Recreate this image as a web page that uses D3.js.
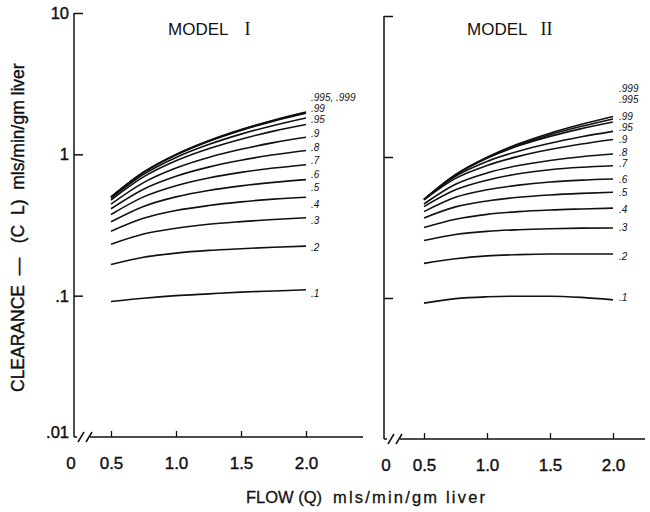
<!DOCTYPE html>
<html>
<head>
<meta charset="utf-8">
<script src="https://cdn.jsdelivr.net/npm/d3@7"></script>
<style>
  html, body { margin: 0; padding: 0; background: #fff; }
  svg { display: block; }
  text { font-family: "Liberation Sans", Arial, Helvetica, sans-serif; fill: #111; }
</style>
</head>
<body>
<svg id="chart" width="650" height="512"></svg>
<script>
// Hepatic flow (Q, mls/min/gm liver) at which clearance was evaluated
const flow = [0.5, 0.75, 1.0, 1.25, 1.5, 1.75, 2.0];

// Extraction ratio for each curve
const extraction = [".1", ".2", ".3", ".4", ".5", ".6", ".7", ".8", ".9", ".95", ".99", ".995", ".999"];

// Clearance (mls/min/gm liver), Model I, one row per extraction ratio
const clModelI = [
  [0.091, 0.096, 0.100, 0.103, 0.106, 0.108, 0.110],
  [0.166, 0.187, 0.200, 0.209, 0.215, 0.220, 0.224],
  [0.231, 0.273, 0.300, 0.320, 0.334, 0.346, 0.356],
  [0.286, 0.353, 0.400, 0.434, 0.461, 0.482, 0.497],
  [0.333, 0.428, 0.500, 0.555, 0.598, 0.633, 0.662],
  [0.375, 0.500, 0.600, 0.680, 0.745, 0.800, 0.845],
  [0.412, 0.567, 0.700, 0.812, 0.908, 0.992, 1.065],
  [0.444, 0.631, 0.800, 0.950, 1.085, 1.210, 1.320],
  [0.474, 0.692, 0.900, 1.095, 1.280, 1.460, 1.625],
  [0.487, 0.721, 0.950, 1.172, 1.390, 1.600, 1.805],
  [0.497, 0.744, 0.990, 1.234, 1.477, 1.718, 1.955],
  [0.499, 0.747, 0.995, 1.242, 1.488, 1.733, 1.975],
  [0.500, 0.749, 0.999, 1.248, 1.497, 1.745, 1.990]
];

// Clearance (mls/min/gm liver), Model II
const clModelII = [
  [0.092, 0.099, 0.102, 0.103, 0.103, 0.101, 0.097],
  [0.176, 0.190, 0.199, 0.203, 0.205, 0.205, 0.205],
  [0.256, 0.282, 0.297, 0.305, 0.310, 0.313, 0.314],
  [0.316, 0.362, 0.392, 0.410, 0.421, 0.428, 0.434],
  [0.370, 0.443, 0.488, 0.518, 0.538, 0.552, 0.563],
  [0.410, 0.518, 0.585, 0.632, 0.665, 0.685, 0.698],
  [0.445, 0.585, 0.685, 0.760, 0.812, 0.845, 0.866],
  [0.464, 0.640, 0.770, 0.870, 0.945, 1.005, 1.050],
  [0.496, 0.705, 0.870, 1.010, 1.130, 1.235, 1.330],
  [0.499, 0.730, 0.930, 1.100, 1.250, 1.390, 1.520],
  [0.500, 0.746, 0.980, 1.200, 1.400, 1.590, 1.770],
  [0.500, 0.748, 0.990, 1.220, 1.440, 1.650, 1.860],
  [0.500, 0.750, 0.996, 1.240, 1.475, 1.705, 1.940]
];

// Curve labels, in the same order as the curves
const labelsI = [".1", ".2", ".3", ".4", ".5", ".6", ".7", ".8", ".9", ".95", ".99", ".995, .999"];
const labelsII = [".1", ".2", ".3", ".4", ".5", ".6", ".7", ".8", ".9", ".95", ".99", ".995", ".999"];

// Y axis ticks
const yTicks = [0.01, 0.1, 1, 10];
const yTickText = [".01", ".1", "1", "10"];
// X axis ticks
const xTicks = [0.5, 1.0, 1.5, 2.0];

// Vertical offsets of the curve labels so that crowded ones stay readable
const nudgeI = [4, 1, 3, 7, 8, 10, 10, 10, 8.5, 1.5, -4.5, -15.5];
const nudgeII = [-2, 2, 0, 1, 0, 0, -2, -2, 0, -3.5, -5.5, -19, -28];

const svg = d3.select("#chart");
const ink = "#111";

function drawPanel(cfg) {
  const g = svg.append("g");
  const x = d3.scaleLinear().domain([0.5, 2.0]).range([cfg.x0, cfg.x1]);
  const y = d3.scaleLog().domain([0.01, 10]).range([cfg.yBottom, cfg.yTop]);

  // vertical axis line
  g.append("line")
    .attr("x1", cfg.axisX).attr("x2", cfg.axisX)
    .attr("y1", y(10)).attr("y2", y(0.01))
    .attr("stroke", ink).attr("stroke-width", 1.5);

  // y ticks pointing inward, labels on the outside
  const yAxis = d3.axisLeft(y)
    .tickValues(yTicks)
    .tickSizeInner(-9)
    .tickSizeOuter(0)
    .tickPadding(5)
    .tickFormat((d, i) => cfg.showYLabels ? yTickText[i] : "");
  const ya = g.append("g")
    .attr("transform", `translate(${cfg.axisX},0)`)
    .call(yAxis);
  ya.select(".domain").remove();
  ya.selectAll(".tick line").attr("stroke", ink).attr("stroke-width", 1.5)
    .filter(d => d === 0.01).remove();
  ya.selectAll(".tick text")
    .attr("font-size", 16.5)
    .attr("stroke", ink).attr("stroke-width", 0.4)
    .attr("dy", d => d === 0.01 ? "0em" : "0.33em");

  // broken horizontal axis
  const by = y(0.01);
  g.append("line")
    .attr("x1", cfg.axisX).attr("x2", cfg.axisX + 3)
    .attr("y1", by).attr("y2", by)
    .attr("stroke", ink).attr("stroke-width", 1.5);
  [cfg.axisX + 4, cfg.axisX + 12].forEach(sx => {
    g.append("line")
      .attr("x1", sx).attr("y1", by + 5)
      .attr("x2", sx + 6).attr("y2", by - 5)
      .attr("stroke", ink).attr("stroke-width", 1.5);
  });
  g.append("line")
    .attr("x1", cfg.axisX + 16).attr("x2", cfg.xEnd)
    .attr("y1", by).attr("y2", by)
    .attr("stroke", ink).attr("stroke-width", 1.5);

  const xAxis = d3.axisBottom(x)
    .tickValues(xTicks)
    .tickSizeInner(-6)
    .tickSizeOuter(0)
    .tickPadding(20)
    .tickFormat(d3.format(".1f"));
  const xa = g.append("g")
    .attr("transform", `translate(0,${by})`)
    .call(xAxis);
  xa.select(".domain").remove();
  xa.selectAll(".tick line").attr("stroke", ink).attr("stroke-width", 1.3);
  xa.selectAll(".tick text")
    .attr("font-size", 17)
    .attr("stroke", ink).attr("stroke-width", 0.4);

  // zero at the axis break
  g.append("text")
    .attr("x", cfg.zeroX).attr("y", by + 32)
    .attr("text-anchor", "middle")
    .attr("font-size", 17)
    .attr("stroke", ink).attr("stroke-width", 0.4)
    .text("0");

  // curves
  const line = d3.line()
    .x((d, i) => x(flow[i]))
    .y(d => y(d))
    .curve(d3.curveMonotoneX);
  g.append("g").selectAll("path")
    .data(cfg.series)
    .join("path")
    .attr("d", line)
    .attr("fill", "none")
    .attr("stroke", ink)
    .attr("stroke-width", 1.6);

  // curve labels
  g.append("g").selectAll("text")
    .data(cfg.labels)
    .join("text")
    .attr("x", x(2.0) + cfg.labelGap)
    .attr("y", (d, i) => y(cfg.series[i][flow.length - 1]) + cfg.nudge[i])
    .attr("dy", "0.35em")
    .attr("font-size", 10)
    .attr("font-style", "italic")
    .text(d => d);

  // title
  const t = g.append("text")
    .attr("x", cfg.titleX).attr("y", 35)
    .attr("font-size", 17);
  t.append("tspan").text("MODEL");
  t.append("tspan")
    .attr("dx", cfg.numeralGap)
    .attr("font-family", "'Liberation Serif', 'DejaVu Serif', serif")
    .attr("font-size", 18)
    .text(cfg.numeral);
}

drawPanel({
  axisX: 74, x0: 111, x1: 306, xEnd: 363, zeroX: 71,
  yTop: 13, yBottom: 437,
  series: clModelI, labels: labelsI, nudge: nudgeI, labelGap: 5,
  showYLabels: true, titleX: 168, numeral: "I", numeralGap: 16
});

drawPanel({
  axisX: 384, x0: 424, x1: 613, xEnd: 645, zeroX: 386,
  yTop: 16, yBottom: 439,
  series: clModelII, labels: labelsII, nudge: nudgeII, labelGap: 6,
  showYLabels: false, titleX: 467, numeral: "II", numeralGap: 13
});

// vertical axis title, read bottom to top
svg.append("text")
  .attr("transform", "translate(24,392) rotate(-90)")
  .attr("text-anchor", "start")
  .attr("font-size", 17.5)
  .attr("stroke", ink).attr("stroke-width", 0.4)
  .attr("xml:space", "preserve")
  .text("CLEARANCE  —   (C  L)  mls/min/gm liver");

// horizontal axis title
const xt = svg.append("text")
  .attr("x", 246).attr("y", 503)
  .attr("font-size", 16.5)
  .attr("stroke", ink).attr("stroke-width", 0.3);
xt.append("tspan").text("FLOW (Q)");
svg.append("text")
  .attr("x", 333).attr("y", 503)
  .attr("font-size", 16.5)
  .attr("stroke", ink).attr("stroke-width", 0.3)
  .attr("textLength", 152)
  .attr("lengthAdjust", "spacing")
  .text("mls/min/gm liver");
</script>
</body>
</html>
